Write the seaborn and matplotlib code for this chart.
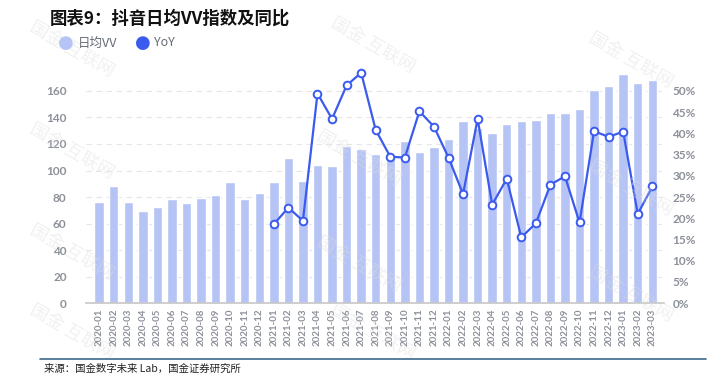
import numpy as np
import pandas as pd
import matplotlib
matplotlib.use("Agg")
import matplotlib.pyplot as plt
import seaborn as sns

# ---------------- data ----------------
months = ["2020-01", "2020-02", "2020-03", "2020-04", "2020-05", "2020-06",
          "2020-07", "2020-08", "2020-09", "2020-10", "2020-11", "2020-12",
          "2021-01", "2021-02", "2021-03", "2021-04", "2021-05", "2021-06",
          "2021-07", "2021-08", "2021-09", "2021-10", "2021-11", "2021-12",
          "2022-01", "2022-02", "2022-03", "2022-04", "2022-05", "2022-06",
          "2022-07", "2022-08", "2022-09", "2022-10", "2022-11", "2022-12",
          "2023-01", "2023-02", "2023-03"]
vv = [76.5, 88.5, 76.5, 69.7, 72.5, 78.2, 75.2, 79.5, 81.8, 91.6, 78.2, 83.0,
      91.3, 109.2, 92.3, 104.2, 103.4, 118.7, 116.2, 112.2, 110.5, 122.5, 114.2, 117.5,
      123.5, 137.4, 132.3, 128.1, 134.8, 137.4, 138.1, 143.2, 143.2, 146.4, 160.5, 164.0,
      172.6, 165.8, 168.3]
yoy_months = months[12:]
yoy = [18.6, 22.5, 19.4, 49.4, 43.4, 51.3, 54.3, 40.8, 34.5, 34.3, 45.2, 41.6,
       34.3, 25.7, 43.4, 23.2, 29.3, 15.5, 18.8, 27.9, 29.9, 19.0, 40.5, 39.2,
       40.4, 21.0, 27.5]
left_ticks = [0, 20, 40, 60, 80, 100, 120, 140, 160]
right_ticks = [0, 5, 10, 15, 20, 25, 30, 35, 40, 45, 50]

BAR_C = "#b6c4f5"
LINE_C = "#3b5bef"
TICK_C = "#8c9099"
CJK = ["Noto Sans CJK SC", "DejaVu Sans"]

sns.set_theme(style="white")
plt.rcParams['font.family'] = ['Lato', 'Noto Sans CJK SC', 'DejaVu Sans']

fig = plt.figure(figsize=(7.17, 3.77), dpi=100)
ax = fig.add_axes([0.12, 0.196, 0.806, 0.619])

df_bar = pd.DataFrame({"month": months, "vv": vv})
sns.barplot(data=df_bar, x="month", y="vv", color=BAR_C, saturation=1,
            width=0.65, ax=ax, zorder=2)
ax.set_xlim(-0.9, 38.8)
ax.set_ylim(0, 176)
ax.set_yticks(left_ticks)
ax.set_xlabel("")
ax.set_ylabel("")
ax.yaxis.grid(True, color="#e6e6e6", linestyle=(0, (5, 4)), linewidth=0.8, zorder=0)
ax.set_axisbelow(True)
for s in ["top", "right", "left"]:
    ax.spines[s].set_visible(False)
ax.spines["bottom"].set_color("#c8c8c8")
ax.tick_params(axis="x", labelrotation=90, labelsize=7, colors=TICK_C, length=0, pad=4)
ax.tick_params(axis="y", labelsize=8.5, colors=TICK_C, length=0, pad=14)
for lab in ax.get_yticklabels() + ax.get_xticklabels():
    lab.set_fontweight("bold")

ax2 = ax.twinx()
pos = [months.index(m) for m in yoy_months]
df_line = pd.DataFrame({"pos": pos, "yoy": yoy})
sns.lineplot(data=df_line, x="pos", y="yoy", color=LINE_C, linewidth=1.6,
             marker="o", markersize=5.5, markerfacecolor="white",
             markeredgecolor=LINE_C, markeredgewidth=1.4, ax=ax2, zorder=3,
             clip_on=False)
ax2.set_ylim(0, 176 / 3.2)
ax2.set_yticks(right_ticks)
ax2.set_yticklabels([f"{t}%" for t in right_ticks])
ax2.set_xlim(-0.9, 38.8)
ax2.set_ylabel("")
ax2.set_xlabel("")
for s in ["top", "right", "left", "bottom"]:
    ax2.spines[s].set_visible(False)
ax2.tick_params(axis="y", labelsize=8.5, colors=TICK_C, length=0, pad=6)
for lab in ax2.get_yticklabels():
    lab.set_fontweight("bold")

# title, legend, source
fig.text(0.07, 0.952, "图表9：抖音日均VV指数及同比", fontsize=12.5, fontweight="bold",
         family=CJK, va="center", ha="left", color="#111111")
fig.text(0.081, 0.886, "●", fontsize=13, color=BAR_C, va="center", family=["DejaVu Sans"])
fig.text(0.108, 0.886, "日均VV", fontsize=9, color="#666b75", va="center", family=CJK)
fig.text(0.188, 0.886, "●", fontsize=13, color=LINE_C, va="center", family=["DejaVu Sans"])
fig.text(0.215, 0.886, "YoY", fontsize=9, color="#666b75", va="center", family=CJK)

fig.add_artist(plt.Line2D([0.056, 0.985], [0.048, 0.048], color="#3d6a8a", linewidth=1.2))
fig.text(0.062, 0.022, "来源：国金数字未来 Lab，国金证券研究所", fontsize=7.5, color="#222222",
         va="center", family=CJK)

# watermarks
for (x, y) in [(0.1, 0.87), (0.1, 0.6), (0.1, 0.33), (0.1, 0.12),
               (0.52, 0.88), (0.5, 0.58), (0.5, 0.3), (0.52, 0.12),
               (0.88, 0.84), (0.88, 0.5), (0.88, 0.22)]:
    fig.text(x, y, "国金 互联网", fontsize=13, color="#dcdcdc", alpha=0.4, rotation=-30,
             ha="center", va="center", family=CJK, zorder=0)

fig.savefig("out.png", dpi=100)
